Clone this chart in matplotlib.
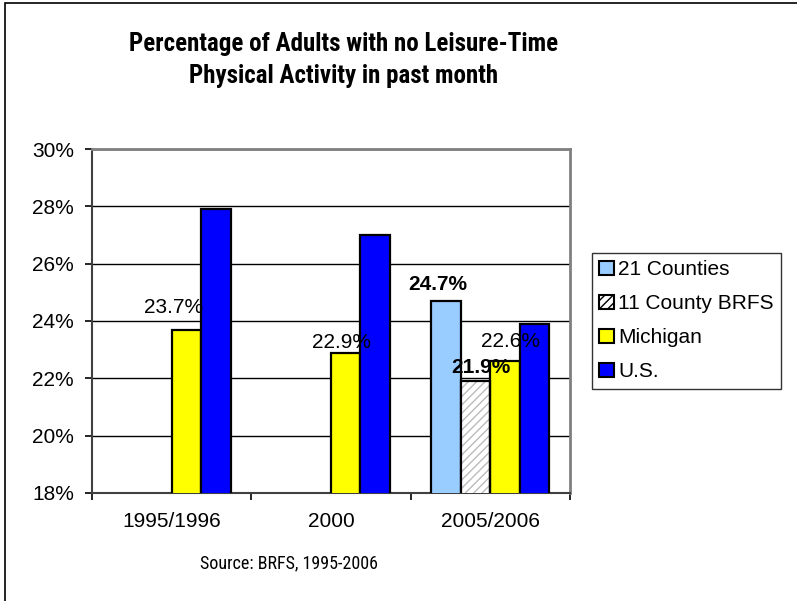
import numpy as np
import matplotlib
matplotlib.use("Agg")
import matplotlib.pyplot as plt
from matplotlib.patches import Rectangle, Patch

plt.rcParams['font.family'] = ['Liberation Sans', 'DejaVu Sans']
NARROW = ["Roboto Condensed", "Liberation Sans", "DejaVu Sans"]

categories = ["1995/1996", "2000", "2005/2006"]
series_names = ["21 Counties", "11 County BRFS", "Michigan", "U.S."]
counties21 = [np.nan, np.nan, 24.7]
county11_brfs = [np.nan, np.nan, 21.9]
michigan = [23.7, 22.9, 22.6]
us = [27.9, 27.0, 23.9]
yticks = [18, 20, 22, 24, 26, 28, 30]

title = "Percentage of Adults with no Leisure-Time\nPhysical Activity in past month"
source = "Source: BRFS, 1995-2006"

values = [counties21, county11_brfs, michigan, us]
colors = ["#99CCFF", "white", "#FFFF00", "#0000FF"]

fig = plt.figure(figsize=(7.97, 6.01), dpi=100)
W, H = 797, 601
ax = fig.add_axes([92 / W, (H - 493) / H, (570 - 92) / W, (493 - 149) / H])

x = np.arange(len(categories))
w = 0.185
offsets = [-1.5, -0.5, 0.5, 1.5]
for vals, col, off, name in zip(values, colors, offsets, series_names):
    pos = x + off * w
    if name == "11 County BRFS":
        ax.bar(pos, vals, w, color="white", edgecolor="#BBBBBB",
               hatch="////", linewidth=0, zorder=3)
        ax.bar(pos, vals, w, fill=False, edgecolor="black", linewidth=1.6, zorder=4)
    else:
        ax.bar(pos, vals, w, color=col, edgecolor="black", linewidth=1.6, zorder=3)

ax.set_ylim(18, 30)
ax.set_xlim(-0.5, len(categories) - 0.5)
ax.set_yticks(yticks)
ax.set_yticklabels([f"{t}%" for t in yticks], fontsize=15)
ax.yaxis.grid(True, color="black", linewidth=1.0, zorder=0)
ax.set_axisbelow(True)

ax.set_xticks(np.arange(len(categories) + 1) - 0.5)
ax.set_xticklabels([])
ax.set_xticks(x, minor=True)
ax.set_xticklabels(categories, minor=True, fontsize=15)
ax.tick_params(axis='x', which='minor', length=0, pad=14)
ax.tick_params(axis='x', which='major', length=5, width=1.2, direction='out')
ax.tick_params(axis='y', length=5, width=1.2, direction='out', pad=8)

for s in ["top", "right"]:
    ax.spines[s].set_color("#808080")
    ax.spines[s].set_linewidth(2)
for s in ["left", "bottom"]:
    ax.spines[s].set_color("#404040")
    ax.spines[s].set_linewidth(1.5)

# data labels: (series index, category index, dx pts, dy pts, bold)
labels = [
    (2, 0, -9, 16, False),
    (2, 1, -3, 7, False),
    (0, 2, -6, 12, True),
    (1, 2, 4, 10, True),
    (2, 2, 4, 14, False),
]
for si, ci, dx, dy, bold in labels:
    v = values[si][ci]
    ax.annotate(f"{v:.1f}%", (x[ci] + offsets[si] * w, v), xytext=(dx, dy),
                textcoords="offset points", ha="center", va="center",
                fontsize=15, fontweight="bold" if bold else "normal", zorder=6,
                annotation_clip=False)

handles = []
for col, name in zip(colors, series_names):
    if name == "11 County BRFS":
        handles.append(Patch(facecolor="white", edgecolor="black", hatch="////", linewidth=1.5))
    else:
        handles.append(Patch(facecolor=col, edgecolor="black", linewidth=1.5))
leg = fig.legend(handles, series_names, loc="upper left",
                 bbox_to_anchor=(592 / W, (H - 253) / H), fontsize=15,
                 frameon=True, fancybox=False, edgecolor="black",
                 handlelength=0.7, handleheight=0.7, handletextpad=0.2,
                 labelspacing=0.72, borderpad=0.35, borderaxespad=0)
leg.get_frame().set_linewidth(1.0)

fig.text(344 / W, 1 - 60 / H, title, ha="center", va="center",
         fontsize=18, fontweight="bold", linespacing=1.4, family=NARROW)
fig.text(289 / W, 1 - 563 / H, source, ha="center", va="center", fontsize=13,
         family=NARROW)

fig.add_artist(Rectangle((5 / W, -0.1), 1.2, 1 - 3 / H + 0.1, transform=fig.transFigure,
                         fill=False, edgecolor="black", linewidth=1.2))

fig.savefig("out.png", dpi=100)
